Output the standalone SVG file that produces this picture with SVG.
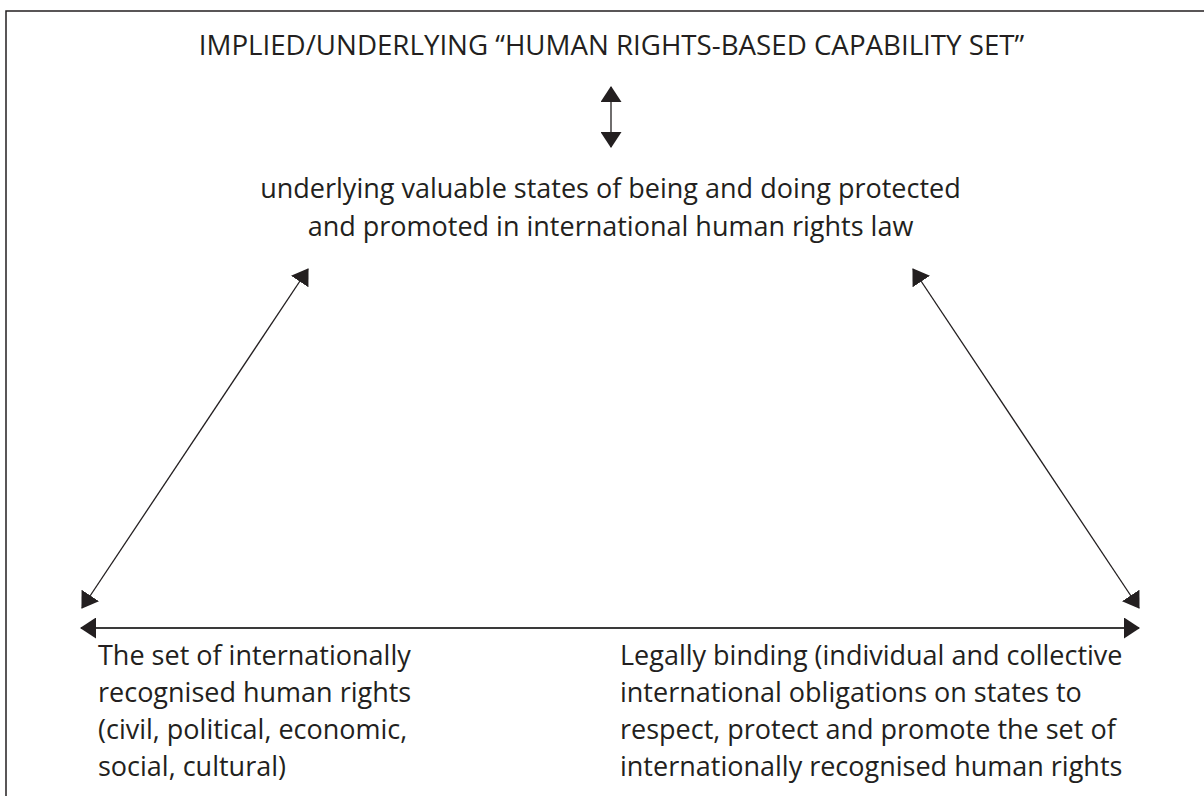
<svg xmlns="http://www.w3.org/2000/svg" width="1204" height="796" viewBox="0 0 1204 796">
  <style>
    .t { font-family: "Open Sans", "Noto Sans", "Liberation Sans", sans-serif; fill: #231f20; }
    .title { font-size: 27.7px; }
    .body { font-size: 27px; }
    .link { stroke: #231f20; stroke-width: 1.3; fill: none; }
    .base { stroke: #3a3a3a; stroke-width: 2; fill: none; }
  </style>
  <defs>
    <!-- solid triangular head, reused at both ends of every connector -->
    <marker id="head" viewBox="0 0 16 21" refX="15" refY="10.5" markerWidth="16" markerHeight="21" markerUnits="userSpaceOnUse" orient="auto-start-reverse">
      <path d="M0,0 L16,10.5 L0,21 Z" fill="#231f20"/>
    </marker>
  </defs>

  <!-- frame -->
  <path d="M6,796 V11 H1204" fill="none" stroke="#231f20" stroke-width="1.5"/>

  <g id="capability-set">
    <text class="t title" x="611.5" y="55" text-anchor="middle">IMPLIED/UNDERLYING “HUMAN RIGHTS-BASED CAPABILITY SET”</text>
  </g>

  <g id="valuable-states">
    <text class="t body" x="610.5" y="198" text-anchor="middle">underlying valuable states of being and doing protected</text>
    <text class="t body" x="610.5" y="236" text-anchor="middle">and promoted in international human rights law</text>
  </g>

  <g id="recognised-rights">
    <text class="t body" x="98" y="665">The set of internationally</text>
    <text class="t body" x="98" y="702">recognised human rights</text>
    <text class="t body" x="98" y="739">(civil, political, economic,</text>
    <text class="t body" x="98" y="776">social, cultural)</text>
  </g>

  <g id="state-obligations">
    <text class="t body" x="620" y="665">Legally binding (individual and collective</text>
    <text class="t body" x="620" y="702">international obligations on states to</text>
    <text class="t body" x="620" y="739">respect, protect and promote the set of</text>
    <text class="t body" x="620" y="776">internationally recognised human rights</text>
  </g>

  <g id="connectors">
    <line class="link" x1="611" y1="87" x2="611" y2="147" marker-start="url(#head)" marker-end="url(#head)"/>
    <line class="link" x1="308" y1="269" x2="82" y2="608" marker-start="url(#head)" marker-end="url(#head)"/>
    <line class="link" x1="913" y1="269" x2="1139" y2="608" marker-start="url(#head)" marker-end="url(#head)"/>
    <line class="base" x1="81" y1="628" x2="1139" y2="628" marker-start="url(#head)" marker-end="url(#head)"/>
  </g>
</svg>
